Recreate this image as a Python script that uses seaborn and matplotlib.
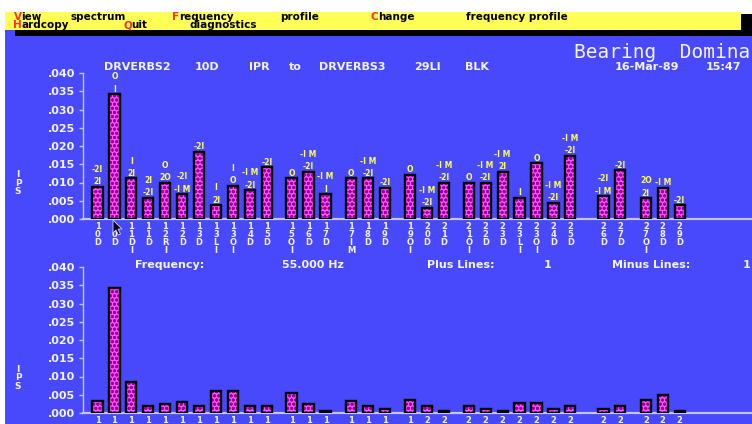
import matplotlib
matplotlib.use("Agg")
import matplotlib.pyplot as plt
from matplotlib.patches import Rectangle, Polygon
import numpy as np
import seaborn as sns

# Measurement points along the machine, in route order
points = ["10D", "10D", "11DI", "11D", "12RI", "12D", "13D", "13LI", "13OI", "14D", "15D",
          "15OI", "16D", "17D",
          "17IM", "18D", "19D",
          "19OI", "20D", "21D",
          "21OI", "22D", "23D", "23LI", "23OI", "24D", "25D",
          "26D", "27D",
          "27OI", "28D", "29D"]

# Overall bearing-dominant amplitude (IPS) at each point
overall_ips = [0.0088, 0.0342, 0.0111, 0.0058, 0.0099, 0.0068, 0.0184, 0.0038, 0.0091, 0.0079, 0.0142,
               0.0111, 0.0130, 0.0068,
               0.0111, 0.0111, 0.0086,
               0.0121, 0.0031, 0.0099,
               0.0099, 0.0099, 0.0130, 0.0058, 0.0153, 0.0045, 0.0173,
               0.0063, 0.0134,
               0.0057, 0.0086, 0.0038]

# Amplitude (IPS) in the 55 Hz band at each point
band_ips = [0.0034, 0.0342, 0.0085, 0.0018, 0.0025, 0.0030, 0.0018, 0.0059, 0.0059, 0.0018, 0.0018,
            0.0055, 0.0025, 0.0006,
            0.0034, 0.0018, 0.0011,
            0.0035, 0.0018, 0.0006,
            0.0018, 0.0012, 0.0006, 0.0027, 0.0027, 0.0012, 0.0018,
            0.0011, 0.0018,
            0.0035, 0.0048, 0.0005]

# Bearing fault tags stacked above each bar (nearest first)
fault_tags = [["2I", "-2I"], ["I", "O"], ["2I", "I"], ["-2I", "2I"], ["2O", "O"], ["-I M", "-2I"],
              ["-2I"], ["2I", "I"], ["O", "I"], ["-2I", "-I M"], ["-2I"],
              ["O"], ["-2I", "-I M"], ["I", "-I M"],
              ["O"], ["-2I", "-I M"], ["-2I"],
              ["O"], ["-2I", "-I M"], ["-2I", "-I M"],
              ["O"], ["-2I", "-I M"], ["2I", "-I M"], ["I"], ["O"], ["-2I", "-I M"], ["-2I", "-I M"],
              ["-I M", "-2I"], ["-2I"],
              ["2I", "2O"], ["-I M"], ["-2I"]]

y_ticks = [0.000, 0.005, 0.010, 0.015, 0.020, 0.025, 0.030, 0.035, 0.040]

# ---------------------------------------------------------------- styling
sns.set_style("white")
plt.rcParams["font.family"] = ["DejaVu Sans"]
plt.rcParams["hatch.linewidth"] = 1.0

BLUE = "#4848fc"
MAGENTA = "#ff55ff"
DARK_MAG = "#a000a0"
YELLOW = "#ffff55"
LAVENDER = "#c4c4ff"
WHITE = "#f4f4ff"
RED = "#ff3030"

W, H = 752, 424
fig = plt.figure(figsize=(W / 100, H / 100), dpi=100, facecolor="white")

# full-figure pixel canvas for the screen frame and free text
bg = fig.add_axes([0, 0, 1, 1])
bg.set_xlim(0, W)
bg.set_ylim(H, 0)
bg.axis("off")
bg.add_patch(Rectangle((5, 30), W - 5, H - 30, color=BLUE, lw=0))
bg.add_patch(Rectangle((15, 14), W - 15, 22, color="black", lw=0))
bg.add_patch(Rectangle((5, 12), 736, 18, color=YELLOW, lw=0))


def put(x, y, s, color=WHITE, size=8, ha="center", family="DejaVu Sans", weight="bold", **kw):
    bg.text(x, y, s, color=color, fontsize=size, ha=ha, va="center",
            family=family, weight=weight, **kw)


# menu bar: hot-key letter in red, rest in black
CELL = 9.5
menu = [(13, 16.5, "View", "spectrum"), (171, 16.5, "Frequency", "profile"),
        (370, 16.5, "Change", "frequency profile"),
        (13, 25.5, "Hardcopy", None), (123, 25.5, "Quit", "diagnostics")]
for x, y, first, rest in menu:
    put(x + CELL / 2, y, first[0], color=RED, size=7.5)
    put(x + CELL - 1, y, first[1:], color="black", size=7.5, ha="left")
    if rest:
        start = x + (len(first) + 1) * CELL
        put(start + len(rest) * CELL / 2, y, rest, color="black", size=7.5)

# screen heading
bg.text(574, 52, "Bearing  Domina", color=WHITE, fontsize=14, ha="left", va="center",
        family="DejaVu Sans Mono")
for x0, x1, word in [(99, 175, "DRVERBS2"), (197, 217, "10D"), (243, 275, "IPR"),
                     (285, 305, "to"), (315, 390, "DRVERBS3"), (413, 442, "29LI"),
                     (463, 490, "BLK"), (604, 689, "16-Mar-89"), (698, 749, "15:47")]:
    put((x0 + x1) / 2, 67, word)

# band readout between the charts
for x0, x1, word in [(123, 216, "Frequency:"), (268, 357, "55.000 Hz"),
                     (408, 513, "Plus Lines:"), (544, 551, "1"),
                     (593, 709, "Minus Lines:"), (743, 750, "1")]:
    put((x0 + x1) / 2, 265, word)

# units, stacked vertically
put(18, 183, "I\nP\nS", size=6.5, linespacing=0.95)
put(18, 378, "I\nP\nS", size=6.5, linespacing=0.95)

# ---------------------------------------------------------------- charts
group_sizes = [11, 3, 3, 3, 7, 2, 3]
group_gaps = [0.0, 0.45, 0.5, 0.5, 0.45, 0.95, 0.5]
positions = []
cursor = 0.0
for size, gap in zip(group_sizes, group_gaps):
    cursor += gap
    for _ in range(size):
        positions.append(cursor)
        cursor += 1.0
positions = np.array(positions)

SLOT_PX, FIRST_PX, AXIS_PX = 16.95, 97.5, 82.5


def px_axes(left, top, right, bottom):
    return fig.add_axes([left / W, 1 - bottom / H, (right - left) / W, (bottom - top) / H])


def draw_chart(ax, values, tick_text, tags=None):
    sns.barplot(x=positions, y=values, native_scale=True, orient="x", width=0.6,
                color=MAGENTA, saturation=1, errorbar=None, ax=ax)
    bars = list(ax.patches)
    for p in bars:
        p.set_hatch("oooo")
        p.set_edgecolor(DARK_MAG)
        p.set_linewidth(0)
        ax.add_patch(Rectangle(p.get_xy(), p.get_width(), p.get_height(),
                               fill=False, edgecolor="black", lw=1.7, zorder=3))
    ax.set_facecolor("none")
    ax.set_xlim((AXIS_PX - FIRST_PX) / SLOT_PX, (W - FIRST_PX) / SLOT_PX)
    ax.set_ylim(0, 0.040)
    for side in ("top", "right"):
        ax.spines[side].set_visible(False)
    ax.spines["left"].set_color(LAVENDER)
    ax.spines["left"].set_linewidth(1.0)
    ax.spines["bottom"].set_color(LAVENDER)
    ax.spines["bottom"].set_linewidth(1.6)
    ax.set_yticks(y_ticks)
    ax.set_yticklabels([f"{v:.3f}"[1:] for v in y_ticks], fontweight="bold")
    ax.tick_params(axis="y", length=3, width=1, color=LAVENDER, labelcolor=WHITE,
                   labelsize=8, pad=2.5, left=True)
    ax.set_xticks(positions)
    ax.set_xticklabels(tick_text, fontweight="bold", linespacing=0.85, va="top")
    ax.tick_params(axis="x", length=0, labelcolor=WHITE, labelsize=6, pad=2)
    ax.set_xlabel("")
    ax.set_ylabel("")
    ax.grid(False)
    if tags:
        for p, stack in zip(bars, tags):
            xc = p.get_x() + p.get_width() / 2
            for i, tag in enumerate(stack):
                ax.annotate(tag, xy=(xc, p.get_height()), xytext=(0, 5 + 12.3 * i),
                            textcoords="offset pixels", ha="center", va="center",
                            color=YELLOW, fontsize=5.5, fontweight="bold",
                            annotation_clip=False)


ax_top = px_axes(AXIS_PX, 73, W, 219)
draw_chart(ax_top, overall_ips, ["\n".join(p) for p in points], fault_tags)

# the lower chart's labels run off the screen; only their first line shows
ax_bot = px_axes(AXIS_PX, 267, W, 413)
draw_chart(ax_bot, band_ips, [p[0] for p in points])

# mouse pointer resting under the second bar
ax_top.add_patch(Polygon([(113, 220), (113, 233), (116, 230), (118.5, 235), (120.5, 234),
                          (118, 229), (122, 229)], closed=True, facecolor="black",
                         edgecolor="#d0d0ff", lw=0.6, transform=bg.transData,
                         clip_on=False, zorder=10))

fig.savefig("out.png", dpi=100, facecolor="white")
